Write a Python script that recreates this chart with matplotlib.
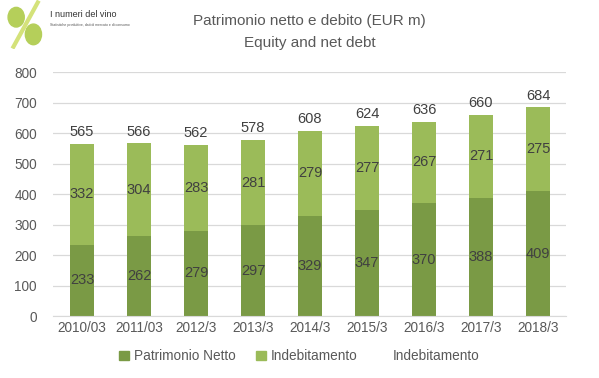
import matplotlib.pyplot as plt
import numpy as np
from matplotlib.patches import Patch, Ellipse

# Dati
anni = ['2010/03', '2011/03', '2012/3', '2013/3', '2014/3', '2015/3', '2016/3', '2017/3', '2018/3']
patrimonio = [233, 262, 279, 297, 329, 347, 370, 388, 409]
indebitamento = [332, 304, 283, 281, 279, 277, 267, 271, 275]
totale = [565, 566, 562, 578, 608, 624, 636, 660, 684]

scuro = '#7a9a45'
chiaro = '#9bbb59'
grigio = '#595959'

plt.rcParams['font.family'] = ['Liberation Sans', 'DejaVu Sans']

fig = plt.figure(figsize=(5.99, 3.78), dpi=100)
ax = fig.add_axes([0.0893, 0.164, 0.8564, 0.6455])

x = np.arange(len(anni))
w = 0.41
ax.bar(x, patrimonio, w, color=scuro, zorder=2)
ax.bar(x, indebitamento, w, bottom=patrimonio, color=chiaro, zorder=2)

# Etichette dei valori
for i in range(len(anni)):
    ax.text(x[i], patrimonio[i] / 2, str(patrimonio[i]), ha='center', va='center',
            fontsize=10.5, color='#404040')
    ax.text(x[i], patrimonio[i] + indebitamento[i] / 2, str(indebitamento[i]),
            ha='center', va='center', fontsize=10.5, color='#404040')
    ax.text(x[i], totale[i] + 15, str(totale[i]), ha='center', va='bottom',
            fontsize=10.5, color='#404040')

ax.set_xlim(-0.5, len(anni) - 0.5)
ax.set_ylim(0, 800)
ax.set_yticks(range(0, 801, 100))
ax.set_xticks(x)
ax.set_xticklabels(anni)
ax.tick_params(axis='both', length=0, labelsize=9.8, colors=grigio)
ax.tick_params(axis='y', pad=12)
ax.grid(axis='y', color='#d9d9d9', linewidth=0.9, zorder=0)
for s in ['top', 'right', 'left']:
    ax.spines[s].set_visible(False)
ax.spines['bottom'].set_color('#d9d9d9')

fig.text(0.517, 0.945, 'Patrimonio netto e debito (EUR m)', ha='center', va='center',
         fontsize=11, color=grigio)
fig.text(0.517, 0.887, 'Equity and net debt', ha='center', va='center',
         fontsize=11, color=grigio)

# Legenda
handles = [Patch(color=scuro), Patch(color=chiaro), Patch(color='none')]
etichette = ['Patrimonio Netto', 'Indebitamento', 'Indebitamento']
fig.legend(handles, etichette, loc='center', bbox_to_anchor=(0.5, 0.058), ncol=3,
           frameon=False, fontsize=9.8, labelcolor=grigio, handlelength=0.7,
           handleheight=0.7, handletextpad=0.4, columnspacing=1.5)

# Logo approssimato
lax = fig.add_axes([0.0, 0.87, 0.09, 0.13])
lax.set_xlim(0, 1)
lax.set_ylim(0, 1)
lax.axis('off')
lax.plot([0.25, 0.7], [0.05, 0.95], color='#d4e27a', lw=3)
lax.add_patch(Ellipse((0.3, 0.65), 0.3, 0.4, color='#b5cf5a'))
lax.add_patch(Ellipse((0.62, 0.3), 0.3, 0.42, color='#b5cf5a'))
fig.text(0.083, 0.962, 'I numeri del vino', fontsize=6.5, color='#333333', va='center')
fig.text(0.083, 0.935, 'Statistiche produttive, dati di mercato e di consumo', fontsize=2.5,
         color='#555555', va='center')

fig.savefig('out.png', dpi=100)
